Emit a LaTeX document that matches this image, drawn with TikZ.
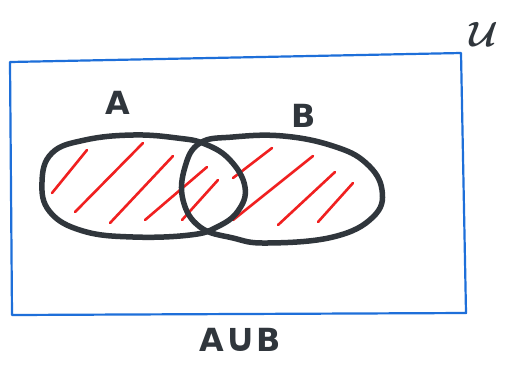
\documentclass[tikz,border=0pt]{standalone}
\usepackage{fontspec}
\usepackage{amsmath}
\setmainfont{DejaVu Sans}
\definecolor{ink}{HTML}{30363C}
\definecolor{bluepen}{HTML}{1E6FD9}
\definecolor{redpen}{HTML}{F02020}
\tikzset{
  outline/.style={draw=ink, line width=5.5bp, line join=round},
  hatch/.style={draw=redpen, line width=2.6bp, line cap=round},
  frame/.style={draw=bluepen, line width=2.2bp, line join=round},
  lbl/.style={text=ink, font=\fontsize{32}{34}\selectfont\bfseries, inner sep=0pt}
}
\begin{document}
\begin{tikzpicture}[x=1bp,y=-1bp]
\useasboundingbox (0,0) rectangle (512,364);
\fill[white] (0,0) rectangle (512,364);
% universal set frame
\coordinate (tl) at (10,62);
\coordinate (tr) at (461,53);
\coordinate (br) at (466,313);
\coordinate (bl) at (12,315);
\draw[frame] (tl) -- (tr) -- (br) -- (bl) -- cycle;
% hatching
\draw[hatch] (52,193) -- (87,150);
\draw[hatch] (75,212) -- (143,143);
\draw[hatch] (110,223) -- (173,156);
\draw[hatch] (145,220) -- (207,167);
\draw[hatch] (182,220) -- (218,180);
\draw[hatch] (233,178) -- (272,148);
\draw[hatch] (233,220) -- (313,156);
\draw[hatch] (278,225) -- (335,172);
\draw[hatch] (318,222) -- (353,183);
% set A
\draw[outline] plot[smooth cycle, tension=0.7] coordinates {
  (42,182) (52,153) (85,140) (133,135) (177,138) (205,144)
  (230,160) (245,187) (238,211) (217,227) (190,235) (133,237)
  (83,231) (50,212)};
% set B
\draw[outline] plot[smooth cycle, tension=0.7] coordinates {
  (200,143) (233,137) (283,136) (333,146) (366,163) (382,190)
  (373,217) (333,237) (267,243) (233,238) (200,227) (183,200) (185,167)};
% labels
\node[lbl] (la) at (118,103) {A};
\node[lbl] (lb) at (304,116) {B};
\node[lbl] (lab) at (240,340) {A{\fontsize{40}{40}\selectfont∪}B};
\node[text=ink, inner sep=0pt, font=\huge\boldmath, scale=1.7] (lu) at (484,34) {$\mathcal{U}$};
\end{tikzpicture}
\end{document}
